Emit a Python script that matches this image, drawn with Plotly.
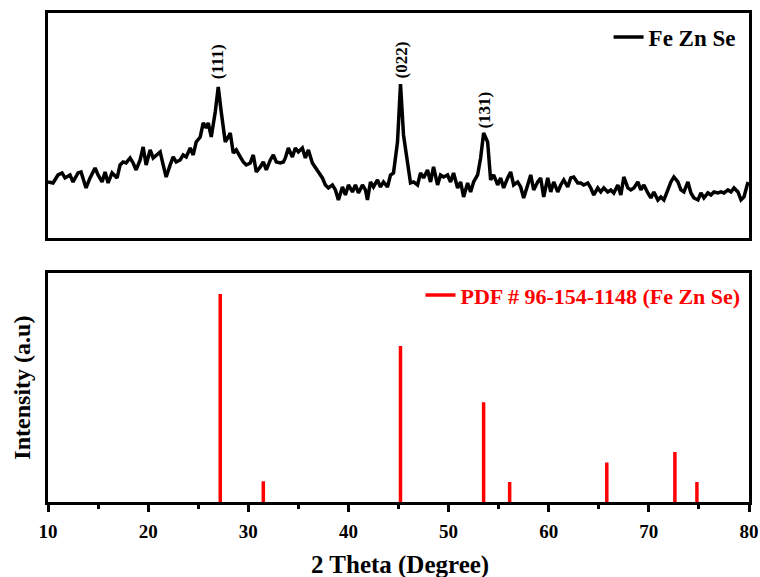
import plotly.graph_objects as go

# ---- Top panel: measured XRD pattern (2θ in degrees, intensity in a.u.) ----
two_theta = [10.0, 10.5, 11.0, 11.4, 11.7, 12.2, 12.5, 13.0, 13.3, 13.8, 14.2, 14.7, 15.0, 15.4, 15.7,
             16.0, 16.4, 16.9, 17.2, 17.5, 17.8, 18.2, 18.5, 18.8, 19.2, 19.5, 19.8, 20.2, 20.5, 20.8,
             21.2, 21.5, 21.8, 22.2, 22.5, 22.8, 23.2, 23.5, 23.8, 24.2, 24.5, 24.8, 25.2, 25.5, 25.8,
             26.0, 26.3, 26.7, 27.0, 27.3, 27.7, 28.0, 28.2, 28.5, 28.8, 29.2, 29.5, 29.8, 30.2, 30.5,
             30.8, 31.2, 31.5, 31.8, 32.2, 32.5, 32.8, 33.2, 33.5, 33.7, 34.0, 34.4, 34.7, 35.0, 35.4,
             35.7, 36.0, 36.4, 36.7, 37.0, 37.4, 37.7, 38.0, 38.4, 38.7, 39.0, 39.4, 39.7, 40.0, 40.4,
             40.7, 41.0, 41.4, 41.7, 41.9, 42.2, 42.5, 42.9, 43.2, 43.5, 43.9, 44.2, 44.5, 44.9, 45.2,
             45.5, 45.9, 46.2, 46.5, 46.9, 47.2, 47.5, 47.9, 48.2, 48.5, 48.9, 49.2, 49.5, 49.9, 50.2,
             50.5, 50.9, 51.2, 51.5, 51.9, 52.2, 52.5, 52.9, 53.2, 53.5, 53.9, 54.2, 54.5, 54.9, 55.2,
             55.5, 55.9, 56.2, 56.5, 56.9, 57.2, 57.5, 57.9, 58.2, 58.5, 58.9, 59.2, 59.5, 59.9, 60.2,
             60.5, 60.9, 61.2, 61.5, 61.9, 62.2, 62.5, 62.9, 63.2, 63.5, 63.9, 64.2, 64.5, 64.9, 65.2,
             65.5, 65.9, 66.2, 66.5, 66.9, 67.2, 67.5, 67.9, 68.2, 68.5, 68.9, 69.2, 69.5, 69.9, 70.2,
             70.5, 70.9, 71.2, 71.5, 71.9, 72.2, 72.5, 72.9, 73.2, 73.5, 73.9, 74.2, 74.5, 74.9, 75.2,
             75.5, 75.9, 76.2, 76.5, 76.9, 77.2, 77.5, 77.9, 78.2, 78.5, 78.9, 79.2, 79.5, 79.9]
intensity = [56, 55, 63, 65, 60, 63, 56, 65, 66, 50, 60, 70, 63, 56, 66,
             55, 65, 60, 73, 76, 75, 80, 75, 68, 78, 91, 73, 88, 80, 83,
             86, 73, 61, 73, 81, 76, 78, 83, 81, 90, 83, 96, 101, 115, 110,
             115, 101, 126, 151, 126, 96, 101, 105, 85, 88, 81, 76, 73, 75, 83,
             66, 71, 76, 68, 78, 83, 76, 75, 76, 80, 90, 81, 90, 86, 90,
             80, 88, 75, 70, 65, 60, 53, 50, 53, 48, 38, 51, 43, 53, 46,
             53, 45, 53, 48, 38, 56, 51, 58, 51, 56, 51, 63, 65, 96, 154,
             103, 76, 55, 56, 53, 65, 60, 68, 56, 71, 53, 63, 61, 63, 56,
             65, 50, 56, 41, 55, 46, 56, 63, 80, 105, 96, 58, 63, 53, 60,
             50, 60, 66, 53, 56, 51, 40, 53, 63, 48, 56, 60, 41, 60, 46,
             56, 46, 53, 58, 51, 60, 61, 55, 55, 53, 55, 50, 43, 50, 46,
             50, 46, 48, 45, 53, 43, 61, 50, 48, 50, 56, 48, 53, 45, 40,
             46, 38, 41, 38, 48, 56, 61, 56, 48, 46, 56, 45, 40, 38, 45,
             40, 45, 43, 46, 45, 46, 45, 48, 46, 50, 46, 38, 41, 56]

# ---- Bottom panel: reference pattern PDF # 96-154-1148 ----
ref_pos = [27.2, 31.5, 45.2, 53.5, 56.1, 65.8, 72.6, 74.8]
ref_int = [100, 10, 75, 48, 9.6, 19, 24, 9.6]

# ---- Miller index labels ----
hkl_labels = ["(111)", "(022)", "(131)"]
hkl_x = [27.0, 45.3, 53.6]
hkl_y = [176, 178, 128]

x_ticks = [10, 20, 30, 40, 50, 60, 70, 80]

FONT = "Liberation Serif"

fig = go.Figure()

fig.add_trace(go.Scatter(
    x=two_theta, y=intensity, mode="lines", name="<b>Fe Zn Se</b>",
    line=dict(color="black", width=3.5), xaxis="x", yaxis="y", legend="legend"))

sx, sy = [], []
for p, h in zip(ref_pos, ref_int):
    sx += [p, p, None]
    sy += [0, h, None]
fig.add_trace(go.Scatter(
    x=sx, y=sy, mode="lines", name="<b>PDF # 96-154-1148 (Fe Zn Se)</b>",
    line=dict(color="#ff0000", width=3.5), xaxis="x2", yaxis="y2", legend="legend2"))

for t, xv, yv in zip(hkl_labels, hkl_x, hkl_y):
    fig.add_annotation(x=xv, y=yv, xref="x", yref="y", text="<b>%s</b>" % t,
                       textangle=-90, showarrow=False, xanchor="center", yanchor="middle",
                       font=dict(family=FONT, size=17, color="black"))

fig.add_annotation(x=-0.037, y=0.234, xref="paper", yref="paper",
                   text="<b>Intensity (a.u)</b>", textangle=-90, showarrow=False,
                   xanchor="center", yanchor="middle",
                   font=dict(family=FONT, size=24, color="black"))
fig.add_annotation(x=0.502, y=-0.128, xref="paper", yref="paper",
                   text="<b>2 Theta (Degree)</b>", showarrow=False,
                   xanchor="center", yanchor="middle",
                   font=dict(family=FONT, size=25, color="black"))

axis_common = dict(showline=True, linecolor="black", linewidth=3, mirror=True,
                   showgrid=False, zeroline=False, automargin=False)

fig.update_layout(
    width=760, height=577,
    margin=dict(l=48, r=11, t=13, b=75, autoexpand=False),
    paper_bgcolor="white", plot_bgcolor="white",
    font=dict(family=FONT, color="black"),
    xaxis=dict(domain=[0, 1], range=[10, 80], anchor="y", showticklabels=False,
               ticks="", **axis_common),
    yaxis=dict(domain=[0.54, 1], range=[0, 225], anchor="x", showticklabels=False,
               ticks="", **axis_common),
    xaxis2=dict(domain=[0, 1], range=[10, 80], anchor="y2", tickvals=x_ticks,
                ticktext=["<b>%d</b>" % v for v in x_ticks],
                ticks="outside", ticklen=7, tickwidth=2.5, tickcolor="black",
                ticklabelstandoff=3,
                tickfont=dict(family=FONT, size=19, color="black"),
                minor=dict(ticks="outside", ticklen=4, tickwidth=2.5, dtick=5,
                           tick0=5, tickcolor="black"),
                **axis_common),
    yaxis2=dict(domain=[0, 0.468], range=[0, 110], anchor="x2", showticklabels=False,
                ticks="", **axis_common),
    legend=dict(x=0.988, xanchor="right", y=0.951, yanchor="middle",
                bgcolor="rgba(0,0,0,0)",
                font=dict(family=FONT, size=23, color="black")),
    legend2=dict(x=0.995, xanchor="right", y=0.423, yanchor="middle",
                 bgcolor="rgba(0,0,0,0)",
                 font=dict(family=FONT, size=22, color="#ff0000")),
    showlegend=True,
)

fig.write_html("out.html")
